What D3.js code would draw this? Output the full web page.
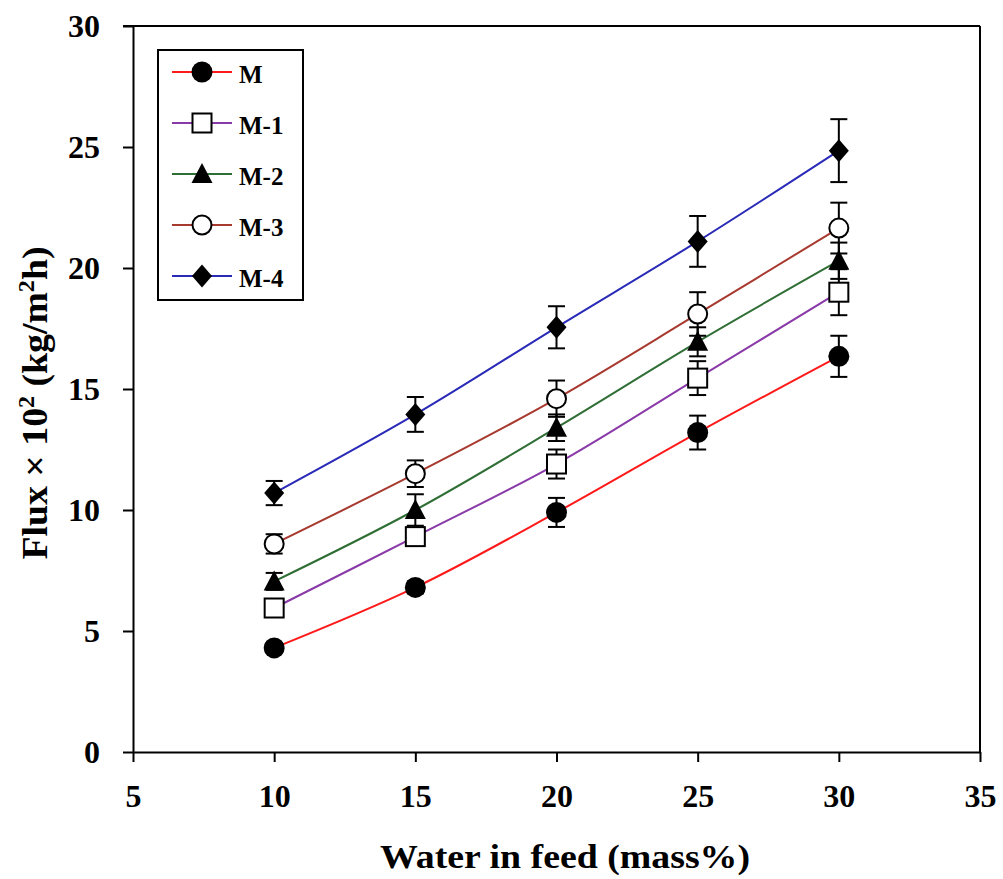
<!DOCTYPE html>
<html>
<head>
<meta charset="utf-8">
<script src="https://cdn.jsdelivr.net/npm/d3@7"></script>
<style>
  body { margin: 0; background: #fff; }
  text { font-family: "Liberation Serif", "Times New Roman", serif; font-weight: bold; }
</style>
</head>
<body>
<script>
// water content in feed (mass%)
var waterFeed = [10, 15, 20, 25, 30];
var seriesNames = ["M", "M-1", "M-2", "M-3", "M-4"];

// flux x 10^2 (kg/m2h) and error bars
var fluxM  = [4.3, 6.8, 9.9, 13.2, 16.35];
var fluxM1 = [5.95, 8.9, 11.9, 15.45, 19.0];
var fluxM2 = [7.05, 10.0, 13.4, 16.95, 20.3];
var fluxM3 = [8.6, 11.5, 14.6, 18.1, 21.65];
var fluxM4 = [10.7, 13.95, 17.55, 21.1, 24.85];

var errM  = [0.2, 0.25, 0.6, 0.7, 0.85];
var errM1 = [0.2, 0.3, 0.6, 0.7, 0.95];
var errM2 = [0.35, 0.65, 0.55, 0.6, 0.75];
var errM3 = [0.4, 0.55, 0.75, 0.9, 1.05];
var errM4 = [0.5, 0.72, 0.87, 1.05, 1.3];

var xTicks = [5, 10, 15, 20, 25, 30, 35];
var yTicks = [0, 5, 10, 15, 20, 25, 30];

var lineColors = ["#ff1a1a", "#8a3aa8", "#2f6e35", "#a8392f", "#2a2ab8"];
var markerTypes = ["circle", "square", "triangle", "opencircle", "diamond"];

var allFlux = [fluxM, fluxM1, fluxM2, fluxM3, fluxM4];
var allErr = [errM, errM1, errM2, errM3, errM4];

var W = 1003, H = 879;
var svg = d3.select("body").append("svg")
    .attr("width", W)
    .attr("height", H);

var x = d3.scaleLinear().domain([5, 35]).range([133, 980]);
var y = d3.scaleLinear().domain([0, 30]).range([752, 26]);

// ====== AXES ======
var xAxis = svg.append("g")
    .attr("transform", "translate(0," + y(0) + ")")
    .call(d3.axisBottom(x).tickValues(xTicks).tickSize(10).tickSizeOuter(0).tickPadding(22));
var yAxis = svg.append("g")
    .attr("transform", "translate(" + x(5) + ",0)")
    .call(d3.axisLeft(y).tickValues(yTicks).tickSize(10).tickSizeOuter(0).tickPadding(23));

[xAxis, yAxis].forEach(function(a) {
    a.select(".domain").attr("stroke", "#000").attr("stroke-width", 2);
    a.selectAll(".tick line").attr("stroke", "#000").attr("stroke-width", 2);
    a.selectAll(".tick text")
        .attr("fill", "#000")
        .style("font-size", "32px")
        .style("font-family", "'Liberation Serif', 'Times New Roman', serif")
        .style("font-weight", "bold");
});

// top and right frame
svg.append("line")
    .attr("x1", x(5) - 10).attr("x2", x(35))
    .attr("y1", y(30)).attr("y2", y(30))
    .attr("stroke", "#000").attr("stroke-width", 2);
svg.append("line")
    .attr("x1", x(35)).attr("x2", x(35))
    .attr("y1", y(30)).attr("y2", y(0))
    .attr("stroke", "#000").attr("stroke-width", 2);

// axis titles
svg.append("text")
    .attr("x", 565)
    .attr("y", 868)
    .attr("text-anchor", "middle")
    .attr("textLength", 370)
    .attr("lengthAdjust", "spacingAndGlyphs")
    .style("font-size", "34px")
    .text("Water in  feed (mass%)");

var yt = svg.append("text")
    .attr("transform", "translate(47,403) rotate(-90)")
    .attr("text-anchor", "middle")
    .attr("textLength", 313)
    .attr("lengthAdjust", "spacingAndGlyphs")
    .style("font-size", "36px");
yt.append("tspan").text("Flux × 10");
yt.append("tspan").attr("dy", -13).style("font-size", "23px").text("2");
yt.append("tspan").attr("dy", 13).text(" (kg/m");
yt.append("tspan").attr("dy", -13).style("font-size", "23px").text("2");
yt.append("tspan").attr("dy", 13).text("h)");

// ====== MARKERS ======
function drawMarker(g, type, cx, cy) {
    if (type == "circle") {
        g.append("circle").attr("cx", cx).attr("cy", cy).attr("r", 10.5).attr("fill", "#000");
    } else if (type == "opencircle") {
        g.append("circle").attr("cx", cx).attr("cy", cy).attr("r", 9.5)
            .attr("fill", "#fff").attr("stroke", "#000").attr("stroke-width", 2);
    } else if (type == "square") {
        g.append("rect").attr("x", cx - 9.5).attr("y", cy - 9.5).attr("width", 19).attr("height", 19)
            .attr("fill", "#fff").attr("stroke", "#000").attr("stroke-width", 2);
    } else if (type == "triangle") {
        g.append("path")
            .attr("d", "M" + cx + "," + (cy - 11) + "L" + (cx + 10.5) + "," + (cy + 9) + "L" + (cx - 10.5) + "," + (cy + 9) + "Z")
            .attr("fill", "#000");
    } else if (type == "diamond") {
        g.append("path")
            .attr("d", "M" + cx + "," + (cy - 11.5) + "L" + (cx + 10) + "," + cy + "L" + cx + "," + (cy + 11.5) + "L" + (cx - 10) + "," + cy + "Z")
            .attr("fill", "#000");
    }
}

// ====== LINES ======
var line = d3.line()
    .x(function(d) { return x(d[0]) })
    .y(function(d) { return y(d[1]) })
    .curve(d3.curveCatmullRom.alpha(0.5));

allFlux.forEach(function(vals, s) {
    var pts = waterFeed.map(function(w, i) { return [w, vals[i]] });
    svg.append("path")
        .attr("d", line(pts))
        .attr("fill", "none")
        .attr("stroke", lineColors[s])
        .attr("stroke-width", 2);
});

// ====== ERROR BARS ======
allFlux.forEach(function(vals, s) {
    var g = svg.append("g").attr("stroke", "#000").attr("stroke-width", 2);
    waterFeed.forEach(function(w, i) {
        var cx = x(w), top = y(vals[i] + allErr[s][i]), bot = y(vals[i] - allErr[s][i]);
        g.append("line").attr("x1", cx).attr("x2", cx).attr("y1", top).attr("y2", bot);
        g.append("line").attr("x1", cx - 8.5).attr("x2", cx + 8.5).attr("y1", top).attr("y2", top);
        g.append("line").attr("x1", cx - 8.5).attr("x2", cx + 8.5).attr("y1", bot).attr("y2", bot);
    });
});

allFlux.forEach(function(vals, s) {
    var g = svg.append("g");
    waterFeed.forEach(function(w, i) {
        drawMarker(g, markerTypes[s], x(w), y(vals[i]));
    });
});

// ====== LEGEND ======
var legend = svg.append("g");
legend.append("rect")
    .attr("x", 158).attr("y", 50).attr("width", 145).attr("height", 250)
    .attr("fill", "#fff").attr("stroke", "#000").attr("stroke-width", 2);
seriesNames.forEach(function(name, s) {
    var ly = 72 + s * 51;
    legend.append("line")
        .attr("x1", 172).attr("x2", 232).attr("y1", ly).attr("y2", ly)
        .attr("stroke", lineColors[s]).attr("stroke-width", 2);
    drawMarker(legend, markerTypes[s], 202, ly);
    legend.append("text")
        .attr("x", 239).attr("y", ly + 11)
        .style("font-size", "25px")
        .text(name);
});
</script>
</body>
</html>
